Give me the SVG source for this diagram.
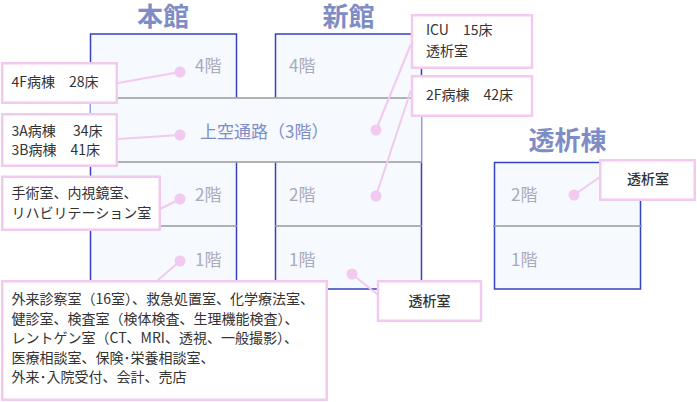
<svg xmlns="http://www.w3.org/2000/svg" width="697" height="402" viewBox="0 0 697 402">
<style>
text{font-family:"Noto Sans CJK JP","Noto Sans",sans-serif}
.title{font-size:26px;font-weight:700;fill:#7f8dc6;text-anchor:middle}
.floor{font-size:17px;fill:#a9abbb}
.bridge{font-size:17px;fill:#7f8dc6}
.bld{fill:#f6f9fe;stroke:none}
.edge{stroke:#3542c0;stroke-width:1.5;fill:none}
.fl{stroke:#999;stroke-width:1.3}
.box{fill:#fff;stroke:#f2c9ef;stroke-width:2.5}
.lbl{font-size:14px;fill:#333}
.lblb{font-size:14px;fill:#333;font-weight:500;text-anchor:middle}
.con line{stroke:#f2c9ef;stroke-width:2}
.con circle{fill:#f2c9ef}
</style>

<g id="honkan">
<text class="title" x="163" y="26">本館</text>
<rect class="bld" x="90.5" y="34" width="146" height="256"/>
<path class="edge" d="M236.5,97.5 V34 H90.5 V289 H236.5 V162.5"/>
<text class="floor" x="195" y="72">4階</text>
<text class="floor" x="195" y="201">2階</text>
<text class="floor" x="195" y="266">1階</text>
</g>

<g id="shinkan">
<text class="title" x="348.5" y="26">新館</text>
<rect class="bld" x="275.5" y="34" width="146" height="256"/>
<path class="edge" d="M275.5,97.5 V34 H421.5 V289 H275.5 V162.5"/>
<text class="floor" x="289" y="72">4階</text>
<text class="floor" x="289" y="201">2階</text>
<text class="floor" x="289" y="266">1階</text>
</g>

<g id="bridge">
<rect class="bld" x="90.5" y="98" width="331" height="64"/>
<line class="fl" x1="90" y1="98" x2="422" y2="98"/>
<line class="fl" x1="90" y1="162" x2="422" y2="162"/>
<line class="fl" x1="90" y1="226" x2="237" y2="226"/>
<line class="fl" x1="275" y1="226" x2="422" y2="226"/>
<text class="bridge" x="200" y="138">上空通路（3階）</text>
</g>

<g id="toseki">
<text class="title" x="567.5" y="150">透析棟</text>
<rect class="bld" x="494.5" y="162.5" width="146" height="127"/>
<rect class="edge" x="494.5" y="162.5" width="146" height="126.5"/>
<line class="fl" x1="493" y1="226" x2="642" y2="226"/>
<text class="floor" x="511" y="201">2階</text>
<text class="floor" x="511" y="266">1階</text>
</g>

<g id="connectors" class="con">
<line x1="180" y1="72" x2="118" y2="83"/>
<line x1="180" y1="135" x2="118" y2="139"/>
<line x1="180" y1="199" x2="160" y2="209"/>
<line x1="180" y1="261" x2="157" y2="281"/>
<line x1="376" y1="130" x2="411" y2="44"/>
<line x1="376" y1="196" x2="411" y2="90"/>
<line x1="574" y1="195" x2="600" y2="177"/>
<line x1="352" y1="274" x2="378" y2="295"/>
<circle cx="180" cy="72" r="5.5"/>
<circle cx="180" cy="135" r="5.5"/>
<circle cx="180" cy="199" r="5.5"/>
<circle cx="180" cy="261" r="5.5"/>
<circle cx="376" cy="130" r="5.5"/>
<circle cx="376" cy="196" r="5.5"/>
<circle cx="574" cy="195" r="5.5"/>
<circle cx="352" cy="274" r="5.5"/>
</g>

<g id="c-4f">
<rect class="box" x="2.25" y="63.25" width="114.5" height="39.5"/>
<text class="lbl" x="11.5" y="87">4F病棟　28床</text>
</g>
<g id="c-3f">
<rect class="box" x="2.25" y="114.25" width="114.5" height="51.5"/>
<text class="lbl" x="11.5" y="135.5">3A病棟　 34床</text>
<text class="lbl" x="11.5" y="155">3B病棟　41床</text>
</g>
<g id="c-2f">
<rect class="box" x="2.25" y="176.75" width="157.5" height="53"/>
<text class="lbl" x="11.5" y="198">手術室、内視鏡室、</text>
<text class="lbl" x="11.5" y="218">リハビリテーション室</text>
</g>
<g id="c-1f">
<rect class="box" x="2.25" y="281.25" width="324.5" height="118.5"/>
<text class="lbl" x="11.5" y="304">外来診察室（16室）、救急処置室、化学療法室、</text>
<text class="lbl" x="11.5" y="323.5">健診室、検査室（検体検査、生理機能検査）、</text>
<text class="lbl" x="11.5" y="343">レントゲン室（CT、MRI、透視、一般撮影）、</text>
<text class="lbl" x="11.5" y="362.5">医療相談室、保険･栄養相談室、</text>
<text class="lbl" x="11.5" y="382">外来･入院受付、会計、売店</text>
</g>
<g id="c-icu">
<rect class="box" x="412" y="15.25" width="120" height="52.5"/>
<text class="lbl" x="426" y="35">ICU　15床</text>
<text class="lbl" x="426" y="55.5">透析室</text>
</g>
<g id="c-2fn">
<rect class="box" x="412" y="76.25" width="120" height="39.5"/>
<text class="lbl" x="426" y="99.5">2F病棟　42床</text>
</g>
<g id="c-toseki2">
<rect class="box" x="600.25" y="160.25" width="94.5" height="39.5"/>
<text class="lblb" x="648" y="184">透析室</text>
</g>
<g id="c-toseki1">
<rect class="box" x="378" y="281.25" width="103" height="39.5"/>
<text class="lblb" x="429.5" y="305.5">透析室</text>
</g>
</svg>
